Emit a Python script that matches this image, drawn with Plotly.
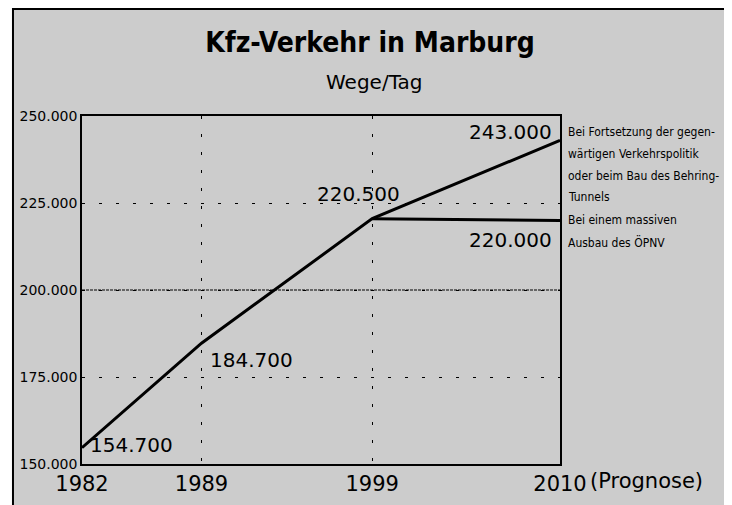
import plotly.graph_objects as go

# ---- data ----
years = [1982, 1989, 1999, 2010]
trips_trend = [154700, 184700, 220500, 243000]     # Fortsetzung der Verkehrspolitik
years_opnv = [1999, 2010]
trips_opnv = [220500, 220000]                      # massiver Ausbau des ÖPNV
tick_years = [1982, 1989, 1999, 2010]
tick_year_labels = ["1982", "1989", "1999", "2010"]
y_ticks = [150000, 175000, 200000, 225000, 250000]
title_text = "Kfz-Verkehr in Marburg"
subtitle_text = "Wege/Tag"
note_trend = ["Bei Fortsetzung der gegen-", "wärtigen Verkehrspolitik",
              "oder beim Bau des Behring-", "Tunnels"]
note_opnv = ["Bei einem massiven", "Ausbau des ÖPNV"]


def de(v):
    return f"{v:,}".replace(",", ".")


FONT = "DejaVu Sans"
COND = "DejaVu Sans Condensed"

fig = go.Figure()
fig.add_trace(go.Scatter(x=years, y=trips_trend, mode="lines",
                         line=dict(color="black", width=3), hoverinfo="skip"))
fig.add_trace(go.Scatter(x=years_opnv, y=trips_opnv, mode="lines",
                         line=dict(color="black", width=3), hoverinfo="skip"))

# background panel with border (first, so it lies underneath everything)
fig.add_shape(type="rect", xref="paper", yref="paper",
              x0=-0.1444, x1=1.3567, y0=-0.2, y1=1.3075,
              fillcolor="#cccccc", line=dict(color="black", width=2), layer="below")

# dense dotted mid line
fig.add_hline(y=y_ticks[2], line=dict(color="black", width=1, dash="3px,1px"), layer="below")

ann = []
# data labels
offsets = [(6, 3, "left"), (6, -17, "left"), (-14, 25, "center"), (-6, 8, "right")]
for (xv, yv), (dx, dy, anc) in zip(zip(years, trips_trend), offsets):
    ann.append(dict(x=xv, y=yv, text=de(yv), showarrow=False, xanchor=anc,
                    yanchor="middle", xshift=dx, yshift=dy,
                    font=dict(family=FONT, size=20, color="black")))
ann.append(dict(x=years_opnv[-1], y=trips_opnv[-1], text=de(trips_opnv[-1]),
                showarrow=False, xanchor="right", yanchor="middle",
                xshift=-6, yshift=-20, font=dict(family=FONT, size=20, color="black")))

# side notes
for i, line in enumerate(note_trend):
    ann.append(dict(xref="paper", x=1, y=trips_trend[-1], text=line, showarrow=False,
                    xanchor="left", yanchor="middle", xshift=6, yshift=8 - 21.7 * i,
                    font=dict(family=COND, size=12, color="black")))
for i, line in enumerate(note_opnv):
    ann.append(dict(xref="paper", x=1, y=trips_opnv[-1], text=line, showarrow=False,
                    xanchor="left", yanchor="middle", xshift=6, yshift=0 - 22 * i,
                    font=dict(family=COND, size=12, color="black")))

# "(Prognose)"
ann.append(dict(x=tick_years[-1], xref="x", yref="paper", y=0, text="(Prognose)",
                showarrow=False, xanchor="left", yanchor="middle", xshift=28, yshift=-17,
                font=dict(family=FONT, size=21, color="black")))
# subtitle
ann.append(dict(xref="paper", yref="paper", x=(374 - 82) / 478, y=(464 - 82) / 348,
                text=subtitle_text, showarrow=False, xanchor="center", yanchor="middle",
                font=dict(family=FONT, size=20, color="black")))

fig.update_layout(
    width=732, height=505,
    margin=dict(l=74, r=180, t=108, b=49),
    paper_bgcolor="white", plot_bgcolor="rgba(0,0,0,0)",
    showlegend=False,
    separators=",.",
    title=dict(text=f"<b>{title_text}</b>", xref="container", yref="container",
               x=362 / 732, y=1 - 34 / 505, xanchor="center", yanchor="middle",
               font=dict(family=COND, size=28, color="black")),
    annotations=ann,
    xaxis=dict(range=[years[0], years[-1]], tickvals=tick_years, ticktext=tick_year_labels,
               showline=True, mirror=True, linecolor="black", linewidth=1.5,
               showgrid=True, gridcolor="black", gridwidth=1, griddash="3px,15px",
               zeroline=False, ticks="", tickfont=dict(family=FONT, size=21, color="black")),
    yaxis=dict(range=[y_ticks[0], y_ticks[-1]], tickvals=y_ticks, tickformat=",d",
               showline=True, mirror=True, linecolor="black", linewidth=1.5,
               showgrid=True, gridcolor="black", gridwidth=1, griddash="3px,14px",
               zeroline=False, ticks="", tickfont=dict(family=FONT, size=14, color="black")),
)

fig.write_html("out.html")
